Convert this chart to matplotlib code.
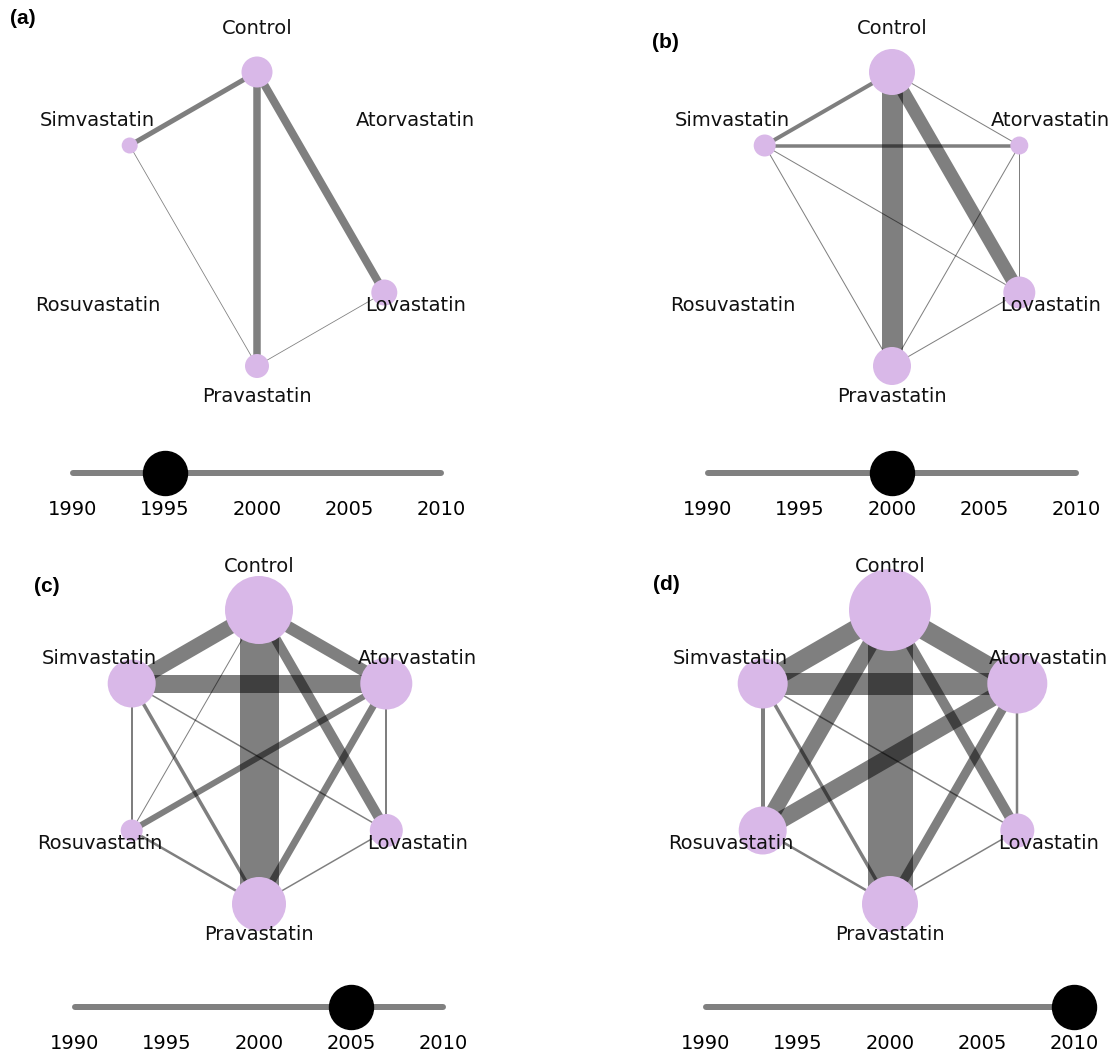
import numpy as np
import matplotlib.pyplot as plt
from matplotlib.patches import Circle

W, H, DPI = 1113, 1059, 100
PX = 72 / DPI  # points per pixel

treatments = ['Control', 'Atorvastatin', 'Lovastatin', 'Pravastatin', 'Rosuvastatin', 'Simvastatin']
years = [1995, 2000, 2005, 2010]
tags = ['(a)', '(b)', '(c)', '(d)']
slider_ticks = [1990, 1995, 2000, 2005, 2010]

# node size (radius) per snapshot, order as in treatments; 0 = not in network yet
nodes_1995 = [15.5, 0, 13, 12, 0, 8]
nodes_2000 = [23, 9, 16, 19, 0, 11]
nodes_2005 = [34, 26, 16.5, 27, 11, 24]
nodes_2010 = [41, 30, 17, 28, 24, 25]

# edge thickness per snapshot
edges_1995 = [('Control', 'Simvastatin', 5), ('Control', 'Pravastatin', 7.5),
              ('Control', 'Lovastatin', 8), ('Simvastatin', 'Pravastatin', 0.8),
              ('Lovastatin', 'Pravastatin', 0.8)]
edges_2000 = [('Control', 'Simvastatin', 4), ('Control', 'Pravastatin', 21),
              ('Control', 'Lovastatin', 13), ('Control', 'Atorvastatin', 1),
              ('Simvastatin', 'Atorvastatin', 3.5), ('Simvastatin', 'Lovastatin', 1),
              ('Simvastatin', 'Pravastatin', 1), ('Atorvastatin', 'Pravastatin', 1),
              ('Atorvastatin', 'Lovastatin', 1), ('Lovastatin', 'Pravastatin', 1)]
edges_2005 = [('Control', 'Simvastatin', 15), ('Control', 'Atorvastatin', 12),
              ('Control', 'Pravastatin', 39), ('Control', 'Lovastatin', 10),
              ('Control', 'Rosuvastatin', 1), ('Simvastatin', 'Atorvastatin', 18),
              ('Simvastatin', 'Rosuvastatin', 2), ('Simvastatin', 'Pravastatin', 3.5),
              ('Simvastatin', 'Lovastatin', 1.5), ('Atorvastatin', 'Rosuvastatin', 6),
              ('Atorvastatin', 'Pravastatin', 7), ('Atorvastatin', 'Lovastatin', 2),
              ('Rosuvastatin', 'Pravastatin', 2.5), ('Lovastatin', 'Pravastatin', 1.5)]
edges_2010 = [('Control', 'Simvastatin', 20), ('Control', 'Atorvastatin', 20),
              ('Control', 'Pravastatin', 45), ('Control', 'Rosuvastatin', 16),
              ('Control', 'Lovastatin', 10), ('Simvastatin', 'Atorvastatin', 22),
              ('Simvastatin', 'Rosuvastatin', 4), ('Simvastatin', 'Pravastatin', 3.5),
              ('Simvastatin', 'Lovastatin', 1.5), ('Atorvastatin', 'Rosuvastatin', 17),
              ('Atorvastatin', 'Pravastatin', 9), ('Atorvastatin', 'Lovastatin', 2.5),
              ('Rosuvastatin', 'Pravastatin', 2.5), ('Lovastatin', 'Pravastatin', 1.5)]

node_sets = [nodes_1995, nodes_2000, nodes_2005, nodes_2010]
edge_sets = [edges_1995, edges_2000, edges_2005, edges_2010]

# hexagon layout
R = 147
angle = {'Control': 90, 'Atorvastatin': 30, 'Lovastatin': -30,
         'Pravastatin': -90, 'Rosuvastatin': 210, 'Simvastatin': 150}
label_off = {'Control': (0, 43), 'Atorvastatin': (31, 25), 'Lovastatin': (31, -13),
             'Pravastatin': (0, -31), 'Rosuvastatin': (-32, -13), 'Simvastatin': (-32, 25)}
centres = [(257, 219), (892, 219), (259, 757), (890, 757)]
slider_y = [473, 473, 1007, 1007]
tag_pos = [(10, 19), (652, 43), (34, 587), (653, 585)]

node_color = '#D9B8E8'
plt.rcParams['font.family'] = ['DejaVu Sans']

fig = plt.figure(figsize=(W / DPI, H / DPI), dpi=DPI)


def px_axes(x0, y0, w, h):
    # axes placed in pixel coords (top-left origin)
    return fig.add_axes([x0 / W, 1 - (y0 + h) / H, w / W, h / H])


for k in range(4):
    cx, cy = centres[k]
    hw, top, bot = 250, 230, 200
    ax = px_axes(cx - hw, cy - top, 2 * hw, top + bot)
    ax.set_xlim(-hw, hw)
    ax.set_ylim(-bot, top)
    ax.axis('off')

    pos = {t: (R * np.cos(np.radians(angle[t])), R * np.sin(np.radians(angle[t])))
           for t in treatments}

    for a, b, w in edge_sets[k]:
        ax.plot([pos[a][0], pos[b][0]], [pos[a][1], pos[b][1]], color='black',
                alpha=0.5, lw=w * PX, solid_capstyle='butt', zorder=1)

    for t, r in zip(treatments, node_sets[k]):
        if r > 0:
            ax.add_patch(Circle(pos[t], r, color=node_color, lw=0, zorder=2))
        dx, dy = label_off[t]
        ax.text(pos[t][0] + dx, pos[t][1] + dy, t, ha='center', va='center',
                fontsize=14, color='#111111', zorder=3)

    # year slider
    sy = slider_y[k]
    sax = px_axes(cx - 184, sy - 20, 368, 40)
    sax.set_xlim(1990, 2010)
    sax.set_ylim(-20, 20)
    sax.plot([slider_ticks[0], slider_ticks[-1]], [0, 0], color='#808080',
             lw=6 * PX, solid_capstyle='round', clip_on=False)
    sax.plot([years[k]], [0], 'o', color='black', ms=44 * PX, clip_on=False)
    sax.set_xticks(slider_ticks)
    sax.set_yticks([])
    sax.tick_params(axis='x', length=0, labelsize=14, pad=5)
    for s in sax.spines.values():
        s.set_visible(False)

    tx, ty = tag_pos[k]
    fig.text(tx / W, 1 - ty / H, tags[k], ha='left', va='center',
             fontsize=15, fontweight='bold', family='Liberation Sans')

fig.savefig('out.png', dpi=DPI)
